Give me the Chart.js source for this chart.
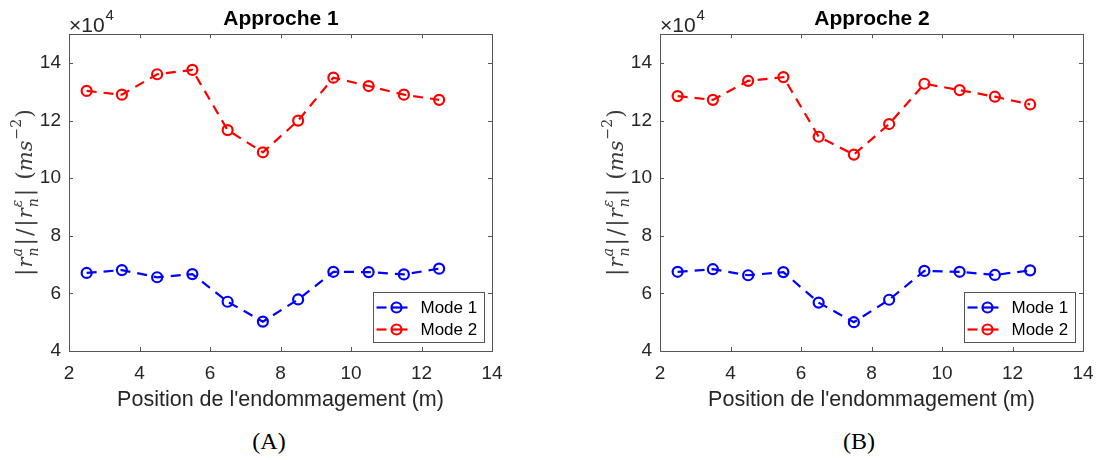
<!DOCTYPE html>
<html>
<head>
<meta charset="utf-8">
<script src="https://cdn.jsdelivr.net/npm/chart.js@4.4.1/dist/chart.umd.min.js"></script>
<style>
  html, body { margin: 0; padding: 0; background: #fff; overflow: hidden; width: 1099px; height: 460px; }
  .box { position: absolute; top: 0; width: 562px; height: 420px; }
  .cap { position: absolute; top: 428px; width: 100px; text-align: center; font: 24px "Liberation Serif", serif; color: #000; }
</style>
</head>
<body>
<div class="box" style="left:0"><canvas id="c1" width="562" height="420"></canvas></div>
<div class="box" style="left:591px"><canvas id="c2" width="562" height="420"></canvas></div>
<div class="cap" style="left:219px">(A)</div>
<div class="cap" style="left:809px">(B)</div>
<script>
// positions de l'endommagement (m)
const positions = [2.5, 3.5, 4.5, 5.5, 6.5, 7.5, 8.5, 9.5, 10.5, 11.5, 12.5];

// Approche 1
const mode1A = [67100, 68100, 65600, 66700, 57100, 50200, 57900, 67500, 67400, 66600, 68600];
const mode2A = [130300, 129000, 136100, 137600, 116700, 109000, 120000, 134900, 132000, 129000, 127200];

// Approche 2
const mode1B = [67500, 68400, 66300, 67400, 56800, 50000, 57800, 67800, 67500, 66400, 68000];
const mode2B = [128500, 127200, 133800, 135100, 114400, 108200, 118800, 132800, 130600, 128300, 125600];

const xTicks = [2, 4, 6, 8, 10, 12, 14];
const yTicks = [4, 6, 8, 10, 12, 14];

const SANS = '"Liberation Sans", Arial, sans-serif';
const SERIF = '"DejaVu Serif", serif';
const AXIS = '#262626';

// morceaux du label y : [texte, police, decalage vertical, empile, espace apres]
const BIG = '22px ' + SERIF, IT = 'italic 21px ' + SERIF;
const SC = 'italic 14px ' + SERIF, SCU = '14px ' + SERIF;
const yLabel = [
  ['|', BIG, 0, false, 1],
  ['r', IT, 0, false, 1],
  ['a', SC, -10, true],
  ['n', SC, 6, false, 2],
  ['|', BIG, 0, false, 2],
  ['/', BIG, 0, false, 2],
  ['|', BIG, 0, false, 1],
  ['r', IT, 0, false, 1],
  ['\u03B5', SC, -10, true],
  ['n', SC, 6, false, 2],
  ['|', BIG, 0, false, 9],
  ['(', BIG, 0, false, 0],
  ['ms', IT, 0, false, 1],
  ['\u22122', SCU, -11, false, 1],
  [')', BIG, 0]
];

function drawPieces(ctx, pieces, cx, cy) {
  const widths = pieces.map(p => { ctx.font = p[1]; return ctx.measureText(p[0]).width; });
  let total = 0, pending = 0;
  pieces.forEach((p, i) => {
    if (p[3]) { pending = widths[i]; return; }
    total += Math.max(widths[i], pending) + (p[4] || 0); pending = 0;
  });
  let x = cx - total / 2;
  pending = 0;
  ctx.textBaseline = 'alphabetic';
  ctx.textAlign = 'left';
  pieces.forEach((p, i) => {
    ctx.font = p[1];
    ctx.fillText(p[0], x, cy + 7 + p[2]);
    if (p[3]) { pending = widths[i]; return; }
    x += Math.max(widths[i], pending) + (p[4] || 0); pending = 0;
  });
}

const axesFrame = {
  id: 'axesFrame',
  afterDatasetsDraw(chart) {
    const ctx = chart.ctx;
    const a = chart.chartArea;
    const sx = chart.scales.x, sy = chart.scales.y;
    ctx.save();
    ctx.strokeStyle = '#555';
    ctx.lineWidth = 1;
    ctx.strokeRect(Math.round(a.left) + 0.5, Math.round(a.top) + 0.5, Math.round(a.right - a.left), Math.round(a.bottom - a.top));
    ctx.beginPath();
    xTicks.forEach(v => {
      const px = Math.round(sx.getPixelForValue(v)) + 0.5;
      ctx.moveTo(px, a.bottom); ctx.lineTo(px, a.bottom - 4);
      ctx.moveTo(px, a.top); ctx.lineTo(px, a.top + 4);
    });
    yTicks.forEach(v => {
      const py = Math.round(sy.getPixelForValue(v * 1e4)) + 0.5;
      ctx.moveTo(a.left, py); ctx.lineTo(a.left + 4, py);
      ctx.moveTo(a.right, py); ctx.lineTo(a.right - 4, py);
    });
    ctx.stroke();

    // multiplicateur x10^4
    ctx.fillStyle = AXIS;
    ctx.textBaseline = 'alphabetic';
    ctx.textAlign = 'left';
    ctx.font = '21px ' + SANS;
    ctx.fillText('\u00D710', a.left, 32);
    const w = ctx.measureText('\u00D710').width;
    ctx.font = '15px ' + SANS;
    ctx.fillText('4', a.left + w + 1, 20);

    // label y
    ctx.save();
    ctx.translate(25, (a.top + a.bottom) / 2);
    ctx.rotate(-Math.PI / 2);
    ctx.fillStyle = '#3a3a3a';
    drawPieces(ctx, yLabel, 0, 0);
    ctx.restore();
    ctx.restore();
  },
  afterDraw(chart) {
    // legende dans le coin bas droit
    const ctx = chart.ctx;
    const a = chart.chartArea;
    const left = Math.round(a.right - 119) + 0.5, top = Math.round(a.bottom - 59) + 0.5;
    ctx.save();
    ctx.fillStyle = '#fff';
    ctx.fillRect(left, top, 111, 50);
    ctx.strokeStyle = '#555';
    ctx.lineWidth = 1;
    ctx.strokeRect(left, top, 111, 50);
    chart.data.datasets.forEach((ds, i) => {
      const y = top + 15 + i * 22;
      ctx.strokeStyle = ds.borderColor;
      ctx.lineWidth = 2.2;
      ctx.beginPath(); ctx.moveTo(left + 3, y); ctx.lineTo(left + 13, y); ctx.stroke();
      ctx.beginPath(); ctx.moveTo(left + 18, y); ctx.lineTo(left + 34, y); ctx.stroke();
      ctx.beginPath(); ctx.arc(left + 23, y, 5, 0, Math.PI * 2); ctx.stroke();
      ctx.fillStyle = '#000';
      ctx.font = '17px ' + SANS;
      ctx.textBaseline = 'middle';
      ctx.textAlign = 'left';
      ctx.fillText(ds.label, left + 47, y + 1);
    });
    ctx.restore();
  }
};

function series(label, color, values) {
  return {
    label: label,
    data: positions.map((x, i) => ({ x: x, y: values[i] })),
    borderColor: color,
    borderWidth: 2.2,
    borderDash: [10, 7],
    pointRadius: 5,
    pointBorderWidth: 2.2,
    pointBorderColor: color,
    pointBackgroundColor: 'rgba(0,0,0,0)',
    tension: 0,
    fill: false
  };
}

function makeChart(id, title, m1, m2) {
  return new Chart(document.getElementById(id), {
    type: 'line',
    data: { datasets: [series('Mode 1', '#0000ff', m1), series('Mode 2', '#ff0000', m2)] },
    options: {
      responsive: false,
      animation: false,
      layout: { padding: 0 },
      plugins: {
        legend: { display: false },
        tooltip: { enabled: false },
        title: {
          display: true, text: title, color: '#000',
          font: { family: SANS, size: 21, weight: 'bold' },
          padding: { top: 7, bottom: 2 }
        }
      },
      scales: {
        x: {
          type: 'linear', min: 2, max: 14,
          afterBuildTicks: s => { s.ticks = xTicks.map(v => ({ value: v })); },
          afterFit: s => { s.height = 69; },
          ticks: { color: AXIS, font: { family: SANS, size: 19 }, padding: 11, maxRotation: 0 },
          grid: { display: false, drawTicks: false },
          border: { display: false },
          title: {
            display: true, text: "Position de l'endommagement (m)", color: AXIS,
            font: { family: SANS, size: 21.5 }, padding: { top: 0, bottom: 7 }
          }
        },
        y: {
          min: 40000, max: 150000,
          afterBuildTicks: s => { s.ticks = yTicks.map(v => ({ value: v * 1e4 })); },
          afterFit: s => { s.width = 69; },
          ticks: { color: AXIS, font: { family: SANS, size: 19 }, padding: 8, callback: v => v / 1e4 },
          grid: { display: false, drawTicks: false },
          border: { display: false }
        },
        // marge droite vide pour centrer le titre sur la zone du graphe
        yRight: {
          position: 'right',
          afterFit: s => { s.width = 70; },
          ticks: { display: false },
          grid: { display: false, drawTicks: false },
          border: { display: false }
        }
      }
    },
    plugins: [axesFrame]
  });
}

makeChart('c1', 'Approche 1', mode1A, mode2A);
makeChart('c2', 'Approche 2', mode1B, mode2B);
</script>
</body>
</html>
